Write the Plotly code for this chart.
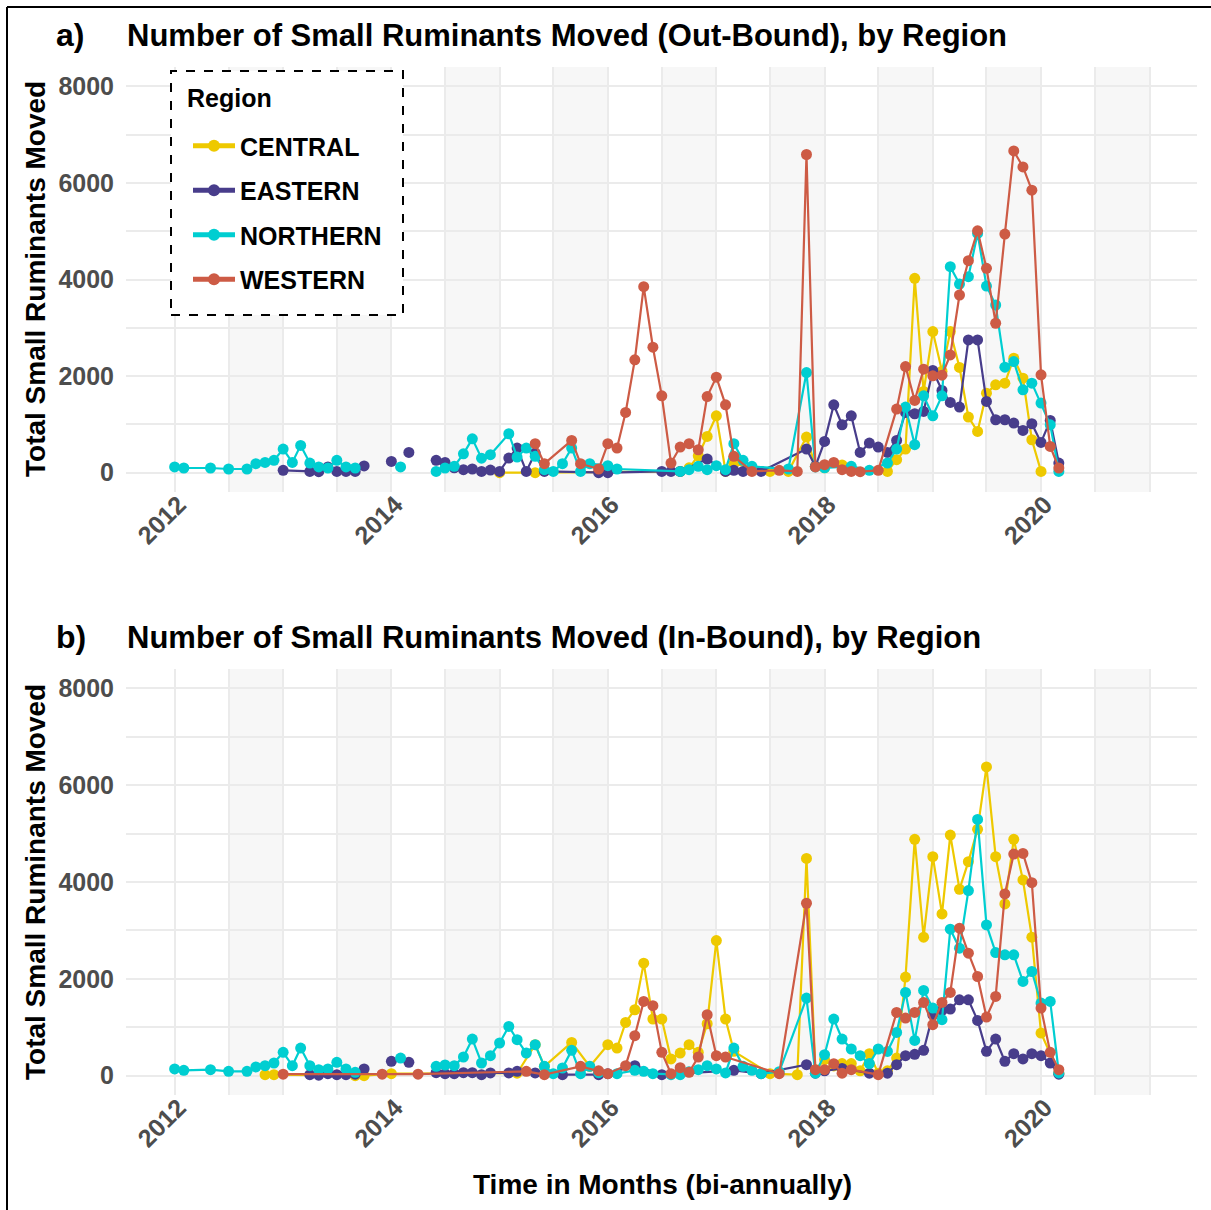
import plotly.graph_objects as go

# ---------------------------------------------------------------------------
# Monthly totals of small ruminants moved, per region.
# Months are "YYYY-MM"; a None value marks a month with no record (line break).
# ---------------------------------------------------------------------------

# ---- a) Out-bound movements ----
OUT_CENTRAL_MONTHS = ["2015-01", "2015-05", "2016-09", "2016-10", "2016-11", "2016-12", "2017-01", "2017-02",
                      "2017-03", "2017-07", "2017-09", "2017-11", "2017-12", "2018-01", "2018-03", "2018-04",
                      "2018-08", "2018-09", "2018-10", "2018-11", "2018-12", "2019-01", "2019-02", "2019-03",
                      "2019-04", "2019-05", "2019-06", "2019-07", "2019-08", "2019-09", "2019-10", "2019-11",
                      "2019-12", "2020-01"]
OUT_CENTRAL_VALUES = [0, 0, 27, 100, 350, 751, 1178, 27,
                      186, 27, 27, 737, 131, 100, 160, 50,
                      27, 269, 490, 4024, 1681, 2921, 2100, 2921,
                      2180, 1151, 854, 1647, 1819, 1854, 2370, 1957,
                      682, 27]

OUT_EASTERN_MONTHS = ["2013-01", "2013-04", "2013-05", "2013-06", "2013-07", "2013-08", "2013-09", "2013-10",
                      "2013-11", "2014-01", "2014-02", "2014-03", "2014-04", "2014-06", "2014-07", "2014-08",
                      "2014-09", "2014-10", "2014-11", "2014-12", "2015-01", "2015-02", "2015-03", "2015-04",
                      "2015-05", "2015-06", "2015-12", "2016-01", "2016-07", "2016-08", "2016-09", "2016-12",
                      "2017-02", "2017-03", "2017-04", "2017-06", "2017-11", "2017-12", "2018-01", "2018-02",
                      "2018-03", "2018-04", "2018-05", "2018-06", "2018-07", "2018-08", "2018-09", "2018-10",
                      "2018-11", "2018-12", "2019-01", "2019-02", "2019-03", "2019-04", "2019-05", "2019-06",
                      "2019-07", "2019-08", "2019-09", "2019-10", "2019-11", "2019-12", "2020-01", "2020-02",
                      "2020-03"]
OUT_EASTERN_VALUES = [48, 27, 20, 118, 27, 27, 27, 140,
                      None, 234, None, 420, None, 255, 213, 100,
                      62, 76, 27, 55, 27, 303, 510, 27,
                      407, 27, 0, 0, 27, 27, 27, 283,
                      27, 50, 27, 27, 490, 131, 648, 1406,
                      992, 1178, 420, 613, 531, 420, 668, 1247,
                      1220, 1268, 2116, 1702, 1454, 1358, 2749, 2749,
                      1475, 1096, 1096, 1027, 875, 1013, 627, 1082,
                      200]

OUT_NORTHERN_MONTHS = ["2012-01", "2012-02", "2012-05", "2012-07", "2012-09", "2012-10", "2012-11", "2012-12",
                       "2013-01", "2013-02", "2013-03", "2013-04", "2013-05", "2013-06", "2013-07", "2013-08",
                       "2013-09", "2013-10", "2014-02", "2014-03", "2014-06", "2014-07", "2014-08", "2014-09",
                       "2014-10", "2014-11", "2014-12", "2015-02", "2015-03", "2015-04", "2015-05", "2015-06",
                       "2015-07", "2015-08", "2015-09", "2015-10", "2015-11", "2016-01", "2016-02", "2016-09",
                       "2016-10", "2016-11", "2016-12", "2017-01", "2017-02", "2017-03", "2017-04", "2017-05",
                       "2017-09", "2017-11", "2017-12", "2018-01", "2018-04", "2018-06", "2018-08", "2018-09",
                       "2018-10", "2018-11", "2018-12", "2019-01", "2019-02", "2019-03", "2019-04", "2019-05",
                       "2019-06", "2019-07", "2019-08", "2019-09", "2019-10", "2019-11", "2019-12", "2020-01",
                       "2020-02", "2020-03"]
OUT_NORTHERN_VALUES = [118, 97, 97, 76, 76, 186, 213, 255,
                       490, 213, 565, 200, 118, 97, 255, 118,
                       97, None, 118, None, 27, 97, 131, 390,
                       700, 300, 372, 806, 324, 510, 338, 62,
                       27, 186, 510, 27, 186, 145, 76, 27,
                       62, 131, 62, 145, 62, 600, 255, 131,
                       76, 2074, 118, 100, 131, 48, 200, 490,
                       1358, 579, 1591, 1178, 1591, 4265, 3906, 4058,
                       4954, 3865, 3472, 2184, 2301, 1716, 1854, 1441,
                       992, 27]

OUT_WESTERN_MONTHS = ["2015-05", "2015-06", "2015-09", "2015-10", "2015-12", "2016-01", "2016-02", "2016-03",
                      "2016-04", "2016-05", "2016-06", "2016-07", "2016-08", "2016-09", "2016-10", "2016-11",
                      "2016-12", "2017-01", "2017-02", "2017-03", "2017-05", "2017-08", "2017-10", "2017-11",
                      "2017-12", "2018-01", "2018-02", "2018-03", "2018-04", "2018-05", "2018-07", "2018-09",
                      "2018-10", "2018-11", "2018-12", "2019-01", "2019-02", "2019-03", "2019-04", "2019-05",
                      "2019-06", "2019-07", "2019-08", "2019-09", "2019-10", "2019-11", "2019-12", "2020-01",
                      "2020-02", "2020-03"]
OUT_WESTERN_VALUES = [600, 186, 668, 186, 76, 600, 510, 1247,
                      2336, 3851, 2598, 1591, 200, 531, 600, 475,
                      1577, 1978, 1406, 338, 27, 48, 27, 6588,
                      118, 165, 213, 62, 27, 20, 48, 1316,
                      2198, 1495, 2143, 2005, 2019, 2439, 3679, 4389,
                      5008, 4231, 3094, 4940, 6662, 6331, 5850, 2026,
                      544, 97]

# ---- b) In-bound movements ----
IN_CENTRAL_MONTHS = ["2012-11", "2012-12", "2013-09", "2013-10", "2014-01", "2015-03", "2015-05", "2015-06",
                     "2015-09", "2015-11", "2016-01", "2016-02", "2016-03", "2016-04", "2016-05", "2016-06",
                     "2016-07", "2016-08", "2016-09", "2016-10", "2016-11", "2016-12", "2017-01", "2017-02",
                     "2017-03", "2017-07", "2017-10", "2017-11", "2017-12", "2018-01", "2018-02", "2018-03",
                     "2018-04", "2018-05", "2018-06", "2018-07", "2018-08", "2018-09", "2018-10", "2018-11",
                     "2018-12", "2019-01", "2019-02", "2019-03", "2019-04", "2019-05", "2019-06", "2019-07",
                     "2019-08", "2019-09", "2019-10", "2019-11", "2019-12", "2020-01", "2020-03"]
IN_CENTRAL_VALUES = [20, 20, 0, 0, 41, 50, 639, 190,
                     687, 190, 639, 570, 1100, 1361, 2323, 1169,
                     1169, 344, 467, 639, 481, 1072, 2790, 1169,
                     502, 41, 20, 4488, 124, 330, 200, 250,
                     250, 100, 454, 50, 100, 364, 2035, 4881,
                     2860, 4523, 3340, 4969, 3850, 4420, 5088, 6378,
                     4523, 3547, 4881, 4042, 2860, 880, 50]

IN_EASTERN_MONTHS = ["2013-04", "2013-05", "2013-06", "2013-07", "2013-08", "2013-09", "2013-10", "2013-11",
                     "2014-01", "2014-02", "2014-03", "2014-04", "2014-06", "2014-07", "2014-08", "2014-09",
                     "2014-10", "2014-11", "2014-12", "2015-02", "2015-03", "2015-05", "2015-08", "2015-12",
                     "2016-01", "2016-04", "2016-07", "2017-03", "2017-06", "2017-11", "2017-12", "2018-01",
                     "2018-03", "2018-06", "2018-08", "2018-09", "2018-10", "2018-11", "2018-12", "2019-01",
                     "2019-02", "2019-03", "2019-04", "2019-05", "2019-06", "2019-07", "2019-08", "2019-09",
                     "2019-10", "2019-11", "2019-12", "2020-01", "2020-02", "2020-03"]
IN_EASTERN_VALUES = [20, 10, 40, 20, 20, 30, 138, None,
                     296, None, 275, None, 62, 41, 41, 62,
                     62, 20, 55, 55, 90, 55, 20, 20,
                     41, 206, 20, 110, 41, 227, 50, 100,
                     150, 50, 50, 227, 412, 440, 522, 1258,
                     1347, 1375, 1567, 1567, 1141, 502, 756, 296,
                     454, 344, 454, 412, 261, 30]

IN_NORTHERN_MONTHS = ["2012-01", "2012-02", "2012-05", "2012-07", "2012-09", "2012-10", "2012-11", "2012-12",
                      "2013-01", "2013-02", "2013-03", "2013-04", "2013-05", "2013-06", "2013-07", "2013-08",
                      "2013-09", "2013-10", "2014-02", "2014-03", "2014-06", "2014-07", "2014-08", "2014-09",
                      "2014-10", "2014-11", "2014-12", "2015-01", "2015-02", "2015-03", "2015-04", "2015-05",
                      "2015-06", "2015-07", "2015-08", "2015-09", "2015-10", "2015-11", "2015-12", "2016-02",
                      "2016-04", "2016-05", "2016-06", "2016-08", "2016-09", "2016-10", "2016-11", "2016-12",
                      "2017-01", "2017-02", "2017-03", "2017-04", "2017-05", "2017-06", "2017-08", "2017-11",
                      "2017-12", "2018-01", "2018-02", "2018-03", "2018-04", "2018-05", "2018-06", "2018-07",
                      "2018-08", "2018-09", "2018-10", "2018-11", "2018-12", "2019-01", "2019-02", "2019-03",
                      "2019-04", "2019-05", "2019-06", "2019-07", "2019-08", "2019-09", "2019-10", "2019-11",
                      "2019-12", "2020-01", "2020-02", "2020-03"]
IN_NORTHERN_VALUES = [138, 110, 124, 90, 90, 179, 206, 261,
                      481, 206, 570, 206, 124, 138, 275, 138,
                      69, None, 364, None, 192, 220, 206, 385,
                      756, 261, 412, 674, 1017, 742, 467, 639,
                      192, 41, 158, 522, 41, 192, 60, 41,
                      110, 90, 41, 20, 20, 80, 124, 206,
                      138, 55, 570, 192, 110, 41, 80, 1602,
                      50, 433, 1169, 756, 550, 412, 250, 550,
                      500, 893, 1718, 728, 1760, 1396, 1155, 3025,
                      2633, 3822, 5293, 3113, 2543, 2495, 2495, 1945,
                      2151, 1499, 1533, 55]

IN_WESTERN_MONTHS = ["2013-01", "2013-12", "2014-04", "2015-04", "2015-06", "2015-10", "2015-12", "2016-01",
                     "2016-03", "2016-04", "2016-05", "2016-06", "2016-07", "2016-08", "2016-09", "2016-10",
                     "2016-11", "2016-12", "2017-01", "2017-02", "2017-08", "2017-11", "2017-12", "2018-01",
                     "2018-02", "2018-03", "2018-04", "2018-07", "2018-09", "2018-10", "2018-11", "2018-12",
                     "2019-01", "2019-02", "2019-03", "2019-04", "2019-05", "2019-06", "2019-07", "2019-08",
                     "2019-09", "2019-10", "2019-11", "2019-12", "2020-01", "2020-02", "2020-03"]
IN_WESTERN_VALUES = [30, 30, 30, 89, 20, 192, 100, 41,
                     206, 825, 1533, 1444, 481, 41, 165, 69,
                     385, 1258, 412, 385, 41, 3561, 124, 124,
                     247, 50, 124, 20, 1306, 1189, 1306, 1512,
                     1052, 1512, 1718, 3045, 2530, 2048, 1210, 1636,
                     3753, 4578, 4591, 3986, 1396, 481, 124]

REGIONS = ["CENTRAL", "EASTERN", "NORTHERN", "WESTERN"]
REGION_COLORS = ["#EEC900", "#483D8B", "#00CED1", "#CD5B45"]

OUT_SERIES = [(OUT_CENTRAL_MONTHS, OUT_CENTRAL_VALUES), (OUT_EASTERN_MONTHS, OUT_EASTERN_VALUES),
              (OUT_NORTHERN_MONTHS, OUT_NORTHERN_VALUES), (OUT_WESTERN_MONTHS, OUT_WESTERN_VALUES)]
IN_SERIES = [(IN_CENTRAL_MONTHS, IN_CENTRAL_VALUES), (IN_EASTERN_MONTHS, IN_EASTERN_VALUES),
             (IN_NORTHERN_MONTHS, IN_NORTHERN_VALUES), (IN_WESTERN_MONTHS, IN_WESTERN_VALUES)]

Y_TICKS = [0, 2000, 4000, 6000, 8000]
X_TICK_YEARS = [2012, 2014, 2016, 2018, 2020]

W, H = 1211, 1210
FONT = "Liberation Sans, Arial, sans-serif"
GRID = "#ebebeb"
TICK_COLOR = "#4d4d4d"


def px_x(p):
    return p / W


def px_y(p):
    return 1 - p / H


fig = go.Figure()

panels = [("x", "y", OUT_SERIES, True), ("x2", "y2", IN_SERIES, False)]
for xa, ya, series, show in panels:
    for name, color, (months, values) in zip(REGIONS, REGION_COLORS, series):
        fig.add_trace(go.Scatter(
            x=[m + "-01" for m in months], y=values,
            xaxis=xa, yaxis=ya, name=name, legendgroup=name, showlegend=show,
            mode="lines+markers", connectgaps=False,
            line=dict(color=color, width=2.2),
            marker=dict(color=color, size=11),
        ))

x_left, x_right = px_x(126), px_x(1197)
x_range = ["2011-07-21", "2021-06-10"]
half_years = [f"{y}-{m}-01" for y in range(2011, 2022) for m in ("01", "07")]

xaxis_common = dict(
    type="date", range=x_range, domain=[x_left, x_right],
    tickmode="array", tickvals=[f"{y}-01-01" for y in X_TICK_YEARS],
    ticktext=[str(y) for y in X_TICK_YEARS], tickangle=-45,
    tickfont=dict(family=FONT, size=25, color=TICK_COLOR, weight="bold"),
    showgrid=True, gridcolor=GRID, gridwidth=2, zeroline=False, showline=False, ticks="",
    minor=dict(tickmode="array", tickvals=half_years, showgrid=True, gridcolor=GRID, gridwidth=1.5),
    ticklabelstandoff=-8, ticklabelshift=4,
    fixedrange=True,
)
yaxis_common = dict(
    range=[-400, 8400], tickmode="array", tickvals=Y_TICKS,
    tickfont=dict(family=FONT, size=25, color=TICK_COLOR, weight="bold"),
    showgrid=True, gridcolor=GRID, gridwidth=2, zeroline=False, showline=False, ticks="",
    minor=dict(tickmode="array", tickvals=[1000, 3000, 5000, 7000], showgrid=True,
               gridcolor=GRID, gridwidth=1.5),
    ticklabelstandoff=11,
)

fig.update_layout(
    width=W, height=H, margin=dict(l=0, r=0, t=0, b=0),
    paper_bgcolor="white", plot_bgcolor="white",
    font=dict(family=FONT, color="black"),
    xaxis=dict(anchor="y", **xaxis_common),
    yaxis=dict(anchor="x", domain=[px_y(492), px_y(67)], **yaxis_common),
    xaxis2=dict(anchor="y2", **xaxis_common),
    yaxis2=dict(anchor="x2", domain=[px_y(1095), px_y(669)], **yaxis_common),
    legend=dict(
        x=px_x(188), y=px_y(123), xanchor="left", yanchor="top",
        bgcolor="rgba(0,0,0,0)", borderwidth=0,
        font=dict(family=FONT, size=25, color="black", weight="bold"),
        tracegroupgap=9, itemwidth=42, itemsizing="constant",
    ),
    showlegend=True,
)

shapes = []
# shaded second half of every year
for xa, ya in (("x", "y"), ("x2", "y2")):
    for y in range(2012, 2021):
        shapes.append(dict(type="rect", xref=xa, yref=f"{ya} domain",
                           x0=f"{y}-07-01", x1=f"{y + 1}-01-01", y0=0, y1=1,
                           fillcolor="#f7f7f7", line=dict(width=0), layer="below"))
# dashed legend frame
shapes.append(dict(type="rect", xref="paper", yref="paper",
                   x0=px_x(171), x1=px_x(403), y0=px_y(315), y1=px_y(71),
                   fillcolor="white", line=dict(color="black", width=2, dash="dash"), layer="above"))
# figure frame (left and top edges)
shapes.append(dict(type="line", xref="paper", yref="paper", x0=px_x(7), x1=px_x(7),
                   y0=0, y1=px_y(7), line=dict(color="black", width=2)))
shapes.append(dict(type="line", xref="paper", yref="paper", x0=px_x(7), x1=1,
                   y0=px_y(7), y1=px_y(7), line=dict(color="black", width=2)))
fig.update_layout(shapes=shapes)

ann = []
# legend heading
ann.append(dict(text="Region", x=px_x(185), y=px_y(98), xref="paper", yref="paper",
                xanchor="left", yanchor="middle", showarrow=False,
                font=dict(family=FONT, size=25, color="black", weight="bold")))
for tag, title, ytop in (("a)", "Number of Small Ruminants Moved (Out-Bound), by Region", 35),
                         ("b)", "Number of Small Ruminants Moved (In-Bound), by Region", 637)):
    ann.append(dict(text=tag, x=px_x(54), y=px_y(ytop), xref="paper", yref="paper",
                    xanchor="left", yanchor="middle", showarrow=False,
                    font=dict(family=FONT, size=32, color="black", weight="bold")))
    ann.append(dict(text=title, x=px_x(125), y=px_y(ytop), xref="paper", yref="paper",
                    xanchor="left", yanchor="middle", showarrow=False,
                    font=dict(family=FONT, size=31, color="black", weight="bold")))
for yc in (279, 882):
    ann.append(dict(text="Total Small Ruminants Moved", x=px_x(35), y=px_y(yc),
                    xref="paper", yref="paper", xanchor="center", yanchor="middle",
                    textangle=-90, showarrow=False,
                    font=dict(family=FONT, size=28, color="black", weight="bold")))
ann.append(dict(text="Time in Months (bi-annually)", x=px_x(662), y=px_y(1184),
                xref="paper", yref="paper", xanchor="center", yanchor="middle", showarrow=False,
                font=dict(family=FONT, size=28, color="black", weight="bold")))
fig.update_layout(annotations=ann)

fig.write_html("out.html")
